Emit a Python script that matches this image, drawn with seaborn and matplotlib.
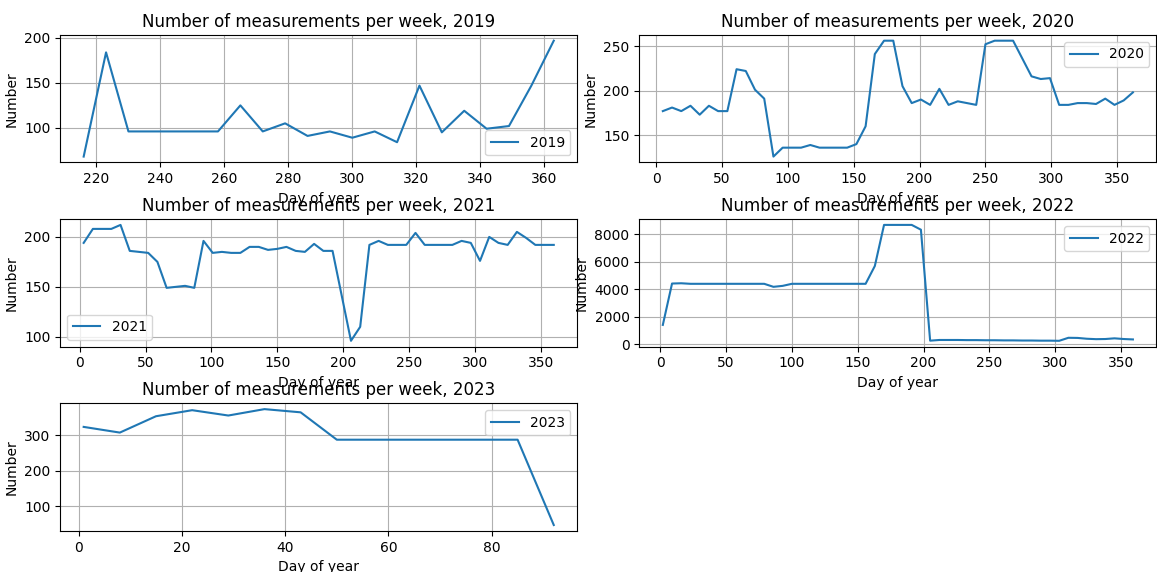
import pandas as pd
import numpy as np
import matplotlib
matplotlib.use('Agg')
import matplotlib.pyplot as plt
from matplotlib.ticker import MultipleLocator
import seaborn as sns

# weekly counts per year, x = day of year of week start
days_2019 = [216, 223, 230, 237, 244, 251, 258, 265, 272, 279, 286, 293, 300, 307,
             314, 321, 328, 335, 342, 349, 356, 363]
counts_2019 = [68, 184, 96, 96, 96, 96, 96, 125, 96, 105, 91, 96, 89, 96,
               84, 147, 95, 119, 99, 102, 147, 197]

days_2020 = [5, 12, 19, 26, 33, 40, 47, 54, 61, 68, 75, 82, 89, 96, 103, 110, 117,
             124, 131, 138, 145, 152, 159, 166, 173, 180, 187, 194, 201, 208, 215,
             222, 229, 236, 243, 250, 257, 264, 271, 278, 285, 292, 299, 306, 313,
             320, 327, 334, 341, 348, 355, 362]
counts_2020 = [177, 181, 177, 183, 173, 183, 177, 177, 224, 222, 201, 191, 126, 136,
               136, 136, 139, 136, 136, 136, 136, 140, 160, 241, 256, 256, 205, 186,
               190, 184, 202, 184, 188, 186, 184, 252, 256, 256, 256, 236, 216, 213,
               214, 184, 184, 186, 186, 185, 191, 184, 189, 198]

days_2021 = [3, 10, 17, 24, 31, 38, 45, 52, 59, 66, 73, 80, 87, 94, 101, 108, 115,
             122, 129, 136, 143, 150, 157, 164, 171, 178, 185, 192, 199, 206, 213,
             220, 227, 234, 241, 248, 255, 262, 269, 276, 283, 290, 297, 304, 311,
             318, 325, 332, 339, 346, 353, 360]
counts_2021 = [194, 208, 208, 208, 212, 186, 185, 184, 175, 149, 150, 151, 149, 196,
               184, 185, 184, 184, 190, 190, 187, 188, 190, 186, 185, 193, 186, 186,
               141, 96, 110, 192, 196, 192, 192, 192, 204, 192, 192, 192, 192, 196,
               194, 176, 200, 194, 192, 205, 199, 192, 192, 192]

days_2022 = [2, 9, 16, 23, 30, 37, 44, 51, 58, 65, 72, 79, 86, 93, 100, 107, 114,
             121, 128, 135, 142, 149, 156, 163, 170, 177, 184, 191, 198, 205, 212,
             219, 226, 233, 240, 247, 254, 261, 268, 275, 282, 289, 296, 303, 310,
             317, 324, 331, 338, 345, 352, 359]
counts_2022 = [1400, 4420, 4440, 4400, 4400, 4400, 4400, 4400, 4400, 4400, 4400, 4400,
               4180, 4250, 4400, 4400, 4400, 4400, 4400, 4400, 4400, 4400, 4400, 5700,
               8700, 8700, 8700, 8700, 8350, 250, 300, 300, 300, 290, 290, 280, 280,
               270, 270, 260, 260, 250, 250, 240, 460, 450, 390, 360, 370, 420, 370, 340]

days_2023 = [1, 8, 15, 22, 29, 36, 43, 50, 57, 64, 71, 78, 85, 92]
counts_2023 = [323, 307, 353, 370, 355, 373, 364, 287, 287, 287, 287, 287, 287, 47]

series = [('2019', days_2019, counts_2019, 'lower right'),
          ('2020', days_2020, counts_2020, 'upper right'),
          ('2021', days_2021, counts_2021, 'lower left'),
          ('2022', days_2022, counts_2022, 'upper right'),
          ('2023', days_2023, counts_2023, 'upper right')]

fig, axes = plt.subplots(3, 2, figsize=(11.57, 5.72), dpi=100)
plt.subplots_adjust(left=0.052, right=0.9995, top=0.939, bottom=0.072,
                    wspace=0.12, hspace=0.445)
axes = axes.flatten()

for ax, (year, days, counts, loc) in zip(axes, series):
    df = pd.DataFrame({'day': days, 'n': counts})
    sns.lineplot(data=df, x='day', y='n', ax=ax, label=year, color='#1f77b4')
    ax.set_title('Number of measurements per week, {}'.format(year), fontsize=12)
    ax.set_xlabel('Day of year')
    ax.set_ylabel('Number')
    ax.grid(True)
    ax.legend(loc=loc)

axes[3].yaxis.set_major_locator(MultipleLocator(2000))
axes[5].remove()

plt.savefig('out.png', dpi=100)
